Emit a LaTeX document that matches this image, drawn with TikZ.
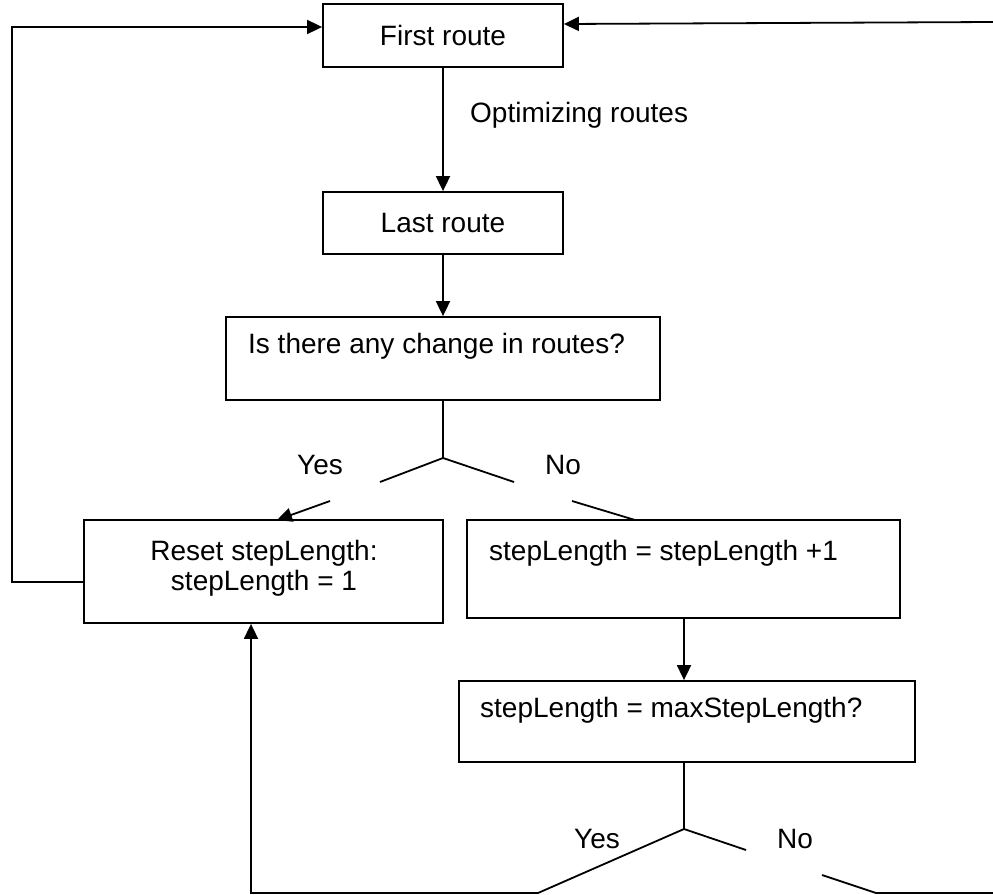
\documentclass[tikz,border=0pt]{standalone}
\usepackage{fontspec}
\setmainfont{Liberation Sans}
\usetikzlibrary{arrows.meta}
\begin{document}
\begin{tikzpicture}[x=1pt,y=-1pt,
  every node/.style={font=\fontsize{28}{32}\selectfont, inner sep=0pt},
  box/.style={draw, line width=1.8pt},
  conn/.style={line width=1.8pt},
  arr/.style={conn, -{Triangle[length=15pt,width=14pt]}}]
\useasboundingbox (0,0) rectangle (993,894);

% boxes
\node[box, minimum width=240pt, minimum height=63pt] (first) at (443,35.5) {First route};
\node[box, minimum width=240pt, minimum height=62pt] (last) at (443,223) {Last route};
\node[box, minimum width=434pt, minimum height=83pt] (change) at (443,358.5) {};
\node[anchor=base west] (changetxt) at (248,353) {Is there any change in routes?};
\node[box, minimum width=359pt, minimum height=103pt] (reset) at (263.5,571.5) {};
\node[anchor=base] (resettxta) at (264,560) {Reset stepLength:};
\node[anchor=base] (resettxtb) at (264,590) {stepLength = 1};
\node[box, minimum width=433pt, minimum height=98pt] (incr) at (683.5,569) {};
\node[anchor=base west] (incrtxt) at (489,560) {stepLength = stepLength +1};
\node[box, minimum width=456pt, minimum height=81pt] (maxq) at (687,721.5) {};
\node[anchor=base west] (maxqtxt) at (480,717) {stepLength = maxStepLength?};

% labels
\node[anchor=west] (opt) at (470,115) {Optimizing routes};
\node (yesa) at (320,465) {Yes};
\node (noa) at (563,465) {No};
\node (yesb) at (597,839) {Yes};
\node (nob) at (795,839) {No};

% branch points and free ends
\coordinate (forka) at (443,458);
\coordinate (ya1) at (380,482);
\coordinate (na1) at (514,482);
\coordinate (ya2) at (330,501);
\coordinate (ya3) at (277,520);
\coordinate (na2) at (572,501);
\coordinate (na3) at (635,520);
\coordinate (forkb) at (684,829);
\coordinate (yb1) at (538,893);
\coordinate (yb2) at (251,893);
\coordinate (nb1) at (746,850);
\coordinate (nb2) at (822,875);
\coordinate (nb3) at (876,893);
\coordinate (nb4) at (993,893);
\coordinate (loopl) at (12,582);
\coordinate (loopt) at (12,27);
\coordinate (loopr) at (993,22);

% connectors
\draw[arr] (first) -- (last);
\draw[arr] (last) -- (change);
\draw[conn] (change.south) -- (forka);
\draw[conn] (ya1) -- (forka) -- (na1);
\draw[arr] (ya2) -- (ya3);
\draw[conn] (na2) -- (na3);
\draw[arr] (forkb |- incr.south) -- (forkb |- maxq.north);
\draw[conn] (forkb |- maxq.south) -- (forkb);
\draw[arr] (forkb) -- (yb1) -- (yb2) -- (yb2 |- reset.south);
\draw[conn] (forkb) -- (nb1);
\draw[conn] (nb2) -- (nb3) -- (nb4);
\draw[arr] (reset.west |- loopl) -- (loopl) -- (loopt) -- (first.west |- loopt);
\draw[arr] (loopr) -- (first.east |- 0,24);
\end{tikzpicture}
\end{document}
